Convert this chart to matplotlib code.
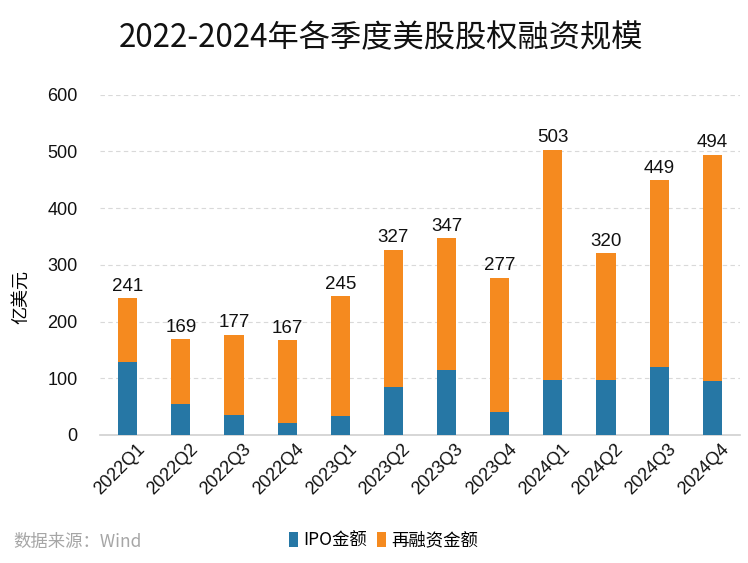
import matplotlib
matplotlib.use('Agg')
import matplotlib.pyplot as plt
import matplotlib.transforms as mtransforms
import numpy as np

# data (亿美元)
quarters = ["2022Q1", "2022Q2", "2022Q3", "2022Q4",
            "2023Q1", "2023Q2", "2023Q3", "2023Q4",
            "2024Q1", "2024Q2", "2024Q3", "2024Q4"]
totals = [241, 169, 177, 167, 245, 327, 347, 277, 503, 320, 449, 494]
ipo = [128, 55, 35, 21, 33, 85, 114, 40, 97, 97, 120, 95]
refi = [t - i for t, i in zip(totals, ipo)]

BLUE = "#2677a5"
ORANGE = "#f58a1f"

plt.rcParams['font.family'] = ['Liberation Sans', 'Noto Sans CJK SC']
cjk = ['Noto Sans CJK SC', 'DejaVu Sans']

fig = plt.figure(figsize=(7.48, 5.63), dpi=100)
ax = fig.add_axes([0.1337, 0.2274, 0.8556, 0.6044])

x = np.arange(len(quarters))
ax.bar(x, ipo, width=0.36, color=BLUE, label="IPO金额", zorder=3)
ax.bar(x, refi, width=0.36, bottom=ipo, color=ORANGE, label="再融资金额", zorder=3)

for xi, t in zip(x, totals):
    ax.text(xi, t + 6, str(t), ha='center', va='bottom', fontsize=13.5, color='#111111')

ax.set_xlim(-0.52, 11.52)
ax.set_ylim(0, 600)
ax.set_yticks(range(0, 601, 100))
ax.tick_params(axis='y', length=0, labelsize=13, pad=16, labelcolor='#111111')
ax.tick_params(axis='x', length=0, labelsize=13, pad=4, labelcolor='#111111')
ax.set_xticks(x)
ax.set_xticklabels(quarters, rotation=45, ha='right', rotation_mode='anchor')
# nudge rotated labels a little right so they end under the bar
shift = mtransforms.ScaledTranslation(6 / 72, 0, fig.dpi_scale_trans)
for lbl in ax.get_xticklabels():
    lbl.set_transform(lbl.get_transform() + shift)
ax.yaxis.grid(True, linestyle=(0, (4, 3)), color='#d9d9d9', linewidth=0.8, zorder=0)
for s in ['top', 'right', 'left']:
    ax.spines[s].set_visible(False)
ax.spines['bottom'].set_color('#d0d0d0')
ax.spines['bottom'].set_linewidth(1.2)

ax.set_ylabel("亿美元", fontsize=13, family=cjk)
ax.yaxis.set_label_coords(-0.109, 0.405)

fig.text(0.51, 0.932, "2022-2024年各季度美股股权融资规模", ha='center', va='center',
         fontsize=22.5, family=cjk, color='#111111')
fig.text(0.018, 0.038, "数据来源：Wind", ha='left', va='center', fontsize=12.5,
         family=cjk, color='#a6a6a6')

leg = fig.legend(loc='center', bbox_to_anchor=(0.513, 0.04), ncol=2, frameon=False,
                 prop={'family': cjk, 'size': 12.5}, handlelength=0.5, handleheight=0.9,
                 handletextpad=0.3, columnspacing=0.6)

fig.savefig("out.png", dpi=100)
